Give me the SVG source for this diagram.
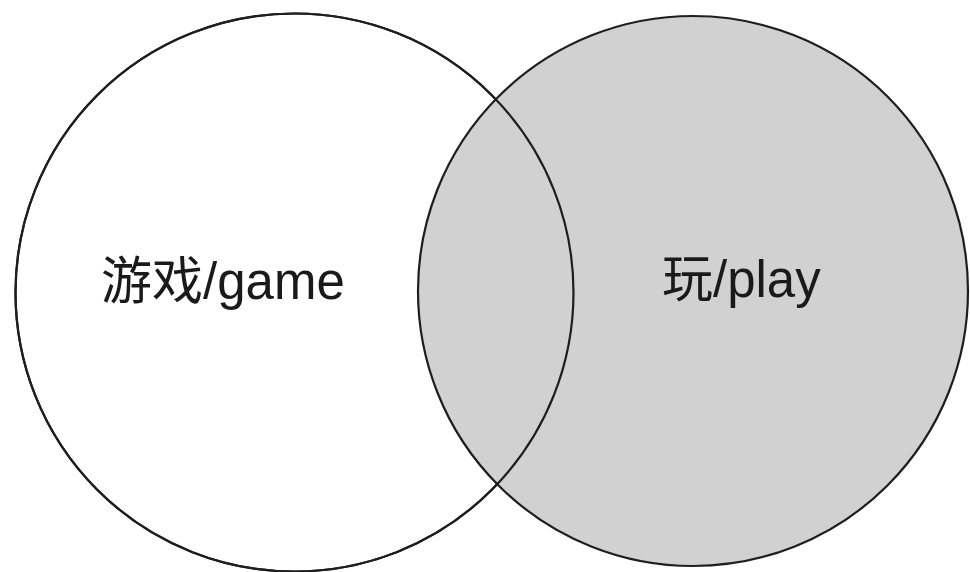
<svg xmlns="http://www.w3.org/2000/svg" width="970" height="572" viewBox="0 0 970 572">
<style>
.ring{stroke:#1e1e1e;stroke-width:2.2}
.lbl{font-family:"Liberation Sans","Noto Sans CJK SC",Arial,sans-serif;font-size:51px;fill:#1a1a1a}
</style>
<rect width="970" height="572" fill="#ffffff"/>
<g id="game">
<circle class="ring" cx="294.5" cy="292.5" r="279" fill="#ffffff"/>
</g>
<g id="play">
<circle class="ring" cx="693" cy="291" r="275" fill="#d1d1d1"/>
</g>
<g id="game-outline">
<circle class="ring" cx="294.5" cy="292.5" r="279" fill="none"/>
</g>
<g id="labels">
<text class="lbl" x="101" y="299">游戏/game</text>
<text class="lbl" x="662" y="297">玩/play</text>
</g>
</svg>
